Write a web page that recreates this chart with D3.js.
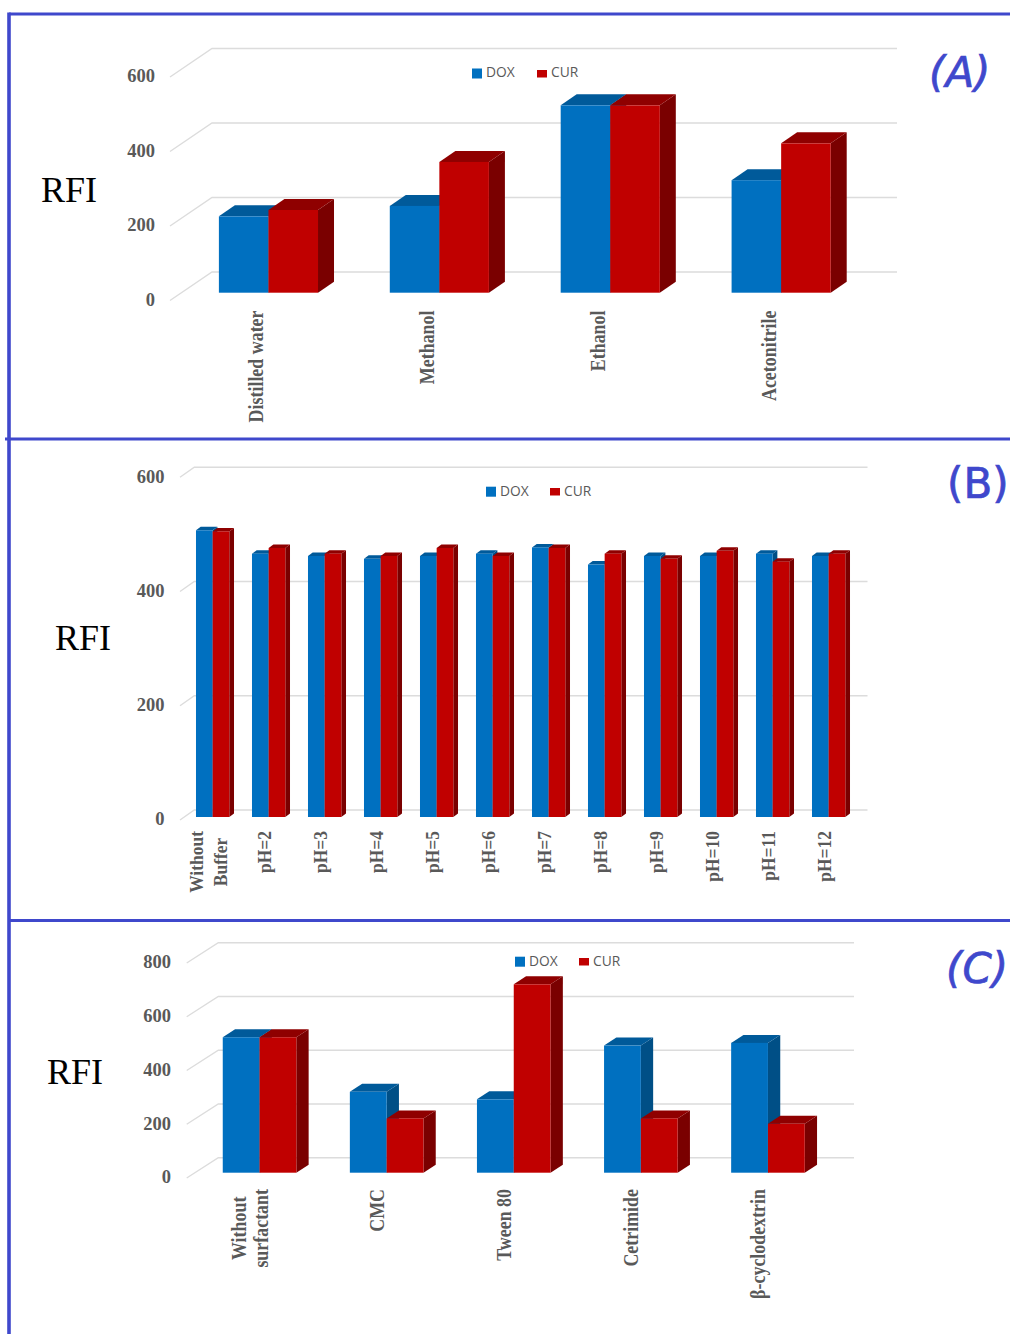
<!DOCTYPE html>
<html>
<head>
<meta charset="utf-8">
<script src="https://cdn.jsdelivr.net/npm/d3@7"></script>
<style>
  html, body { margin: 0; padding: 0; background: #fff; }
  svg { display: block; }
</style>
</head>
<body>
<div id="chart"></div>
<script>
const seriesNames = ['DOX', 'CUR'];

const solventCats = ['Distilled water', 'Methanol', 'Ethanol', 'Acetonitrile'];
const solventDox = [205, 233, 503, 302];
const solventCur = [222, 351, 503, 401];
const solventTicks = [0, 200, 400, 600];

const bufferCats = ['Without\nBuffer', 'pH=2', 'pH=3', 'pH=4', 'pH=5', 'pH=6', 'pH=7', 'pH=8', 'pH=9', 'pH=10', 'pH=11', 'pH=12'];
const bufferDox = [502, 461, 457, 452, 457, 461, 472, 442, 457, 457, 461, 457];
const bufferCur = [500, 471, 461, 457, 471, 457, 471, 461, 452, 466, 447, 461];
const bufferTicks = [0, 200, 400, 600];

const surfactantCats = ['Without\nsurfactant', 'CMC', 'Tween 80', 'Cetrimide', 'β-cyclodextrin'];
const surfactantDox = [504, 301, 273, 473, 483];
const surfactantCur = [504, 202, 701, 202, 182];
const surfactantTicks = [0, 200, 400, 600, 800];

const colors = {
    DOX: { front: '#0070c0', top: '#005a9a', side: '#004f86' },
    CUR: { front: '#c00000', top: '#8f0000', side: '#7a0000' }
};
const frameColor = '#3f48cc';
const serif = '"Liberation Serif", serif';

const svg = d3.select('#chart').append('svg')
    .attr('width', 1010)
    .attr('height', 1334);

svg.append('rect').attr('width', 1010).attr('height', 1334).attr('fill', '#fff');

function drawPanel(cfg) {
    const g = svg.append('g');
    const maxTick = d3.max(cfg.ticks);

    // y runs along the back wall, the bars and tick labels sit lower by an offset
    const y = d3.scaleLinear().domain([0, maxTick]).range(cfg.backY);
    const x = d3.scaleBand()
        .domain(cfg.cats)
        .range(cfg.xRange)
        .paddingInner(cfg.padding)
        .paddingOuter(cfg.padding / 2);
    const xSeries = d3.scaleBand().domain(seriesNames).range([0, x.bandwidth()]);
    const w = xSeries.bandwidth();

    cfg.ticks.forEach(t => {
        g.append('polyline')
            .attr('points', [
                [cfg.wallX[0], y(t) + cfg.wallDy],
                [cfg.wallX[1], y(t)],
                [cfg.gridEnd, y(t)]
            ].join(' '))
            .attr('fill', 'none')
            .attr('stroke', '#dcdcdc')
            .attr('stroke-width', 1.4);
    });

    const yAxis = g.append('g')
        .attr('transform', `translate(${cfg.tickX},${cfg.wallDy - 1})`)
        .call(d3.axisLeft(y).tickValues(cfg.ticks).tickFormat(d3.format('d')).tickSize(0).tickPadding(0));
    yAxis.select('.domain').remove();
    yAxis.selectAll('text')
        .style('font-family', serif)
        .style('font-weight', 'bold')
        .style('font-size', '18.5px')
        .attr('fill', '#595959');

    const rows = cfg.cats.map((c, i) => ({ cat: c, DOX: cfg.dox[i], CUR: cfg.cur[i] }));
    const groups = g.selectAll('.bar-group')
        .data(rows)
        .enter()
        .append('g')
        .attr('class', 'bar-group')
        .attr('transform', d => `translate(${x(d.cat)},${cfg.barOffset})`);

    groups.each(function(d) {
        const group = d3.select(this);
        seriesNames.forEach(name => {
            const x0 = xSeries(name);
            const x1 = x0 + w;
            const top = y(d[name]);
            const base = y(0);
            const c = colors[name];
            group.append('polygon')
                .attr('points', [[x1, top], [x1 + cfg.depth[0], top - cfg.depth[1]], [x1 + cfg.depth[0], base - cfg.depth[1]], [x1, base]].join(' '))
                .attr('fill', c.side);
            group.append('polygon')
                .attr('points', [[x0, top], [x0 + cfg.depth[0], top - cfg.depth[1]], [x1 + cfg.depth[0], top - cfg.depth[1]], [x1, top]].join(' '))
                .attr('fill', c.top);
            group.append('rect')
                .attr('x', x0)
                .attr('y', top)
                .attr('width', w)
                .attr('height', base - top)
                .attr('fill', c.front);
        });
    });

    const xAxis = g.append('g')
        .attr('transform', `translate(0,${cfg.labelTop})`)
        .call(d3.axisBottom(x).tickSize(0));
    xAxis.select('.domain').remove();
    xAxis.selectAll('.tick text').remove();
    xAxis.selectAll('.tick').each(function(d) {
        const tick = d3.select(this);
        const lines = d.split('\n');
        const texts = lines.map((line, i) => {
            const dx = cfg.labelDx + (i - (lines.length - 1) / 2) * cfg.lineGap;
            return tick.append('text')
                .attr('fill', '#595959')
                .attr('text-anchor', 'middle')
                .attr('y', 0)
                .style('font-family', serif)
                .style('font-weight', 'bold')
                .style('font-size', cfg.labelSize + 'px')
                .attr('transform', `translate(${dx},0) rotate(-90) scale(${cfg.labelScale},1)`)
                .text(line);
        });
        const longest = d3.max(texts, t => t.node().getComputedTextLength());
        texts.forEach(t => t.attr('x', -longest / 2));
    });

    g.append('text')
        .attr('x', cfg.rfi[0])
        .attr('y', cfg.rfi[1])
        .attr('fill', '#000')
        .style('font-family', serif)
        .style('font-size', '36px')
        .text('RFI');

    seriesNames.forEach((name, i) => {
        const item = cfg.legend[i];
        g.append('rect')
            .attr('x', item.x)
            .attr('y', item.y)
            .attr('width', 10)
            .attr('height', item.h)
            .attr('fill', colors[name].front);
        g.append('text')
            .attr('x', item.x + 14)
            .attr('y', cfg.legendBase)
            .attr('fill', '#595959')
            .style('font-family', '"Open Sans", sans-serif')
            .style('font-size', '13.8px')
            .text(name);
    });

    g.append('text')
        .attr('x', cfg.tag.x)
        .attr('y', cfg.tag.y)
        .attr('fill', frameColor)
        .attr('stroke', frameColor)
        .attr('stroke-width', 0.7)
        .style('font-family', '"DejaVu Sans", sans-serif')
        .style('font-style', cfg.tag.italic ? 'italic' : 'normal')
        .style('font-size', '42px')
        .text(cfg.tag.text);
}

drawPanel({
    cats: solventCats, dox: solventDox, cur: solventCur, ticks: solventTicks,
    backY: [272, 48.5], wallX: [170, 212], wallDy: 28.5, gridEnd: 897, tickX: 155,
    xRange: [183, 866.6], padding: 0.42, barOffset: 20.7, depth: [16, 11],
    labelTop: 310.5, labelDx: -5, lineGap: 24, labelSize: 22, labelScale: 0.815,
    rfi: [41, 202],
    legend: [{ x: 472, y: 68.5, h: 10 }, { x: 537, y: 70, h: 7.5 }], legendBase: 77,
    tag: { text: '(A)', x: 929, y: 87, italic: true }
});

drawPanel({
    cats: bufferCats, dox: bufferDox, cur: bufferCur, ticks: bufferTicks,
    backY: [810, 467.3], wallX: [180, 194.3], wallDy: 10, gridEnd: 867.5, tickX: 164.5,
    xRange: [184.65, 856.65], padding: 0.405, barOffset: 7, depth: [4.7, 3.5],
    labelTop: 831, labelDx: 2.4, lineGap: 24, labelSize: 19, labelScale: 0.92,
    rfi: [55, 650],
    legend: [{ x: 486, y: 486.7, h: 10 }, { x: 550, y: 488, h: 7.5 }], legendBase: 495.5,
    tag: { text: '(B)', x: 947, y: 498, italic: false }
});

drawPanel({
    cats: surfactantCats, dox: surfactantDox, cur: surfactantCur, ticks: surfactantTicks,
    backY: [1157.7, 942.7], wallX: [186.7, 218.3], wallDy: 20.3, gridEnd: 854, tickX: 171,
    xRange: [196, 831.5], padding: 0.421, barOffset: 15, depth: [12.3, 8],
    labelTop: 1189, labelDx: -2.5, lineGap: 22, labelSize: 22, labelScale: 0.815,
    rfi: [47, 1084],
    legend: [{ x: 515, y: 956.7, h: 10 }, { x: 579, y: 958, h: 7.5 }], legendBase: 965.5,
    tag: { text: '(C)', x: 946, y: 983, italic: true }
});

// panel frames
const frameLines = [
    { x1: 9, y1: 14, x2: 1010, y2: 14, w: 3.2 },
    { x1: 9, y1: 12.5, x2: 9, y2: 1334, w: 3.6 },
    { x1: 5, y1: 439, x2: 1010, y2: 439, w: 2.8 },
    { x1: 9, y1: 920.5, x2: 1010, y2: 920.5, w: 3 }
];
svg.selectAll('.frame')
    .data(frameLines)
    .enter()
    .append('line')
    .attr('class', 'frame')
    .attr('x1', d => d.x1)
    .attr('y1', d => d.y1)
    .attr('x2', d => d.x2)
    .attr('y2', d => d.y2)
    .attr('stroke', frameColor)
    .attr('stroke-width', d => d.w);
</script>
</body>
</html>
